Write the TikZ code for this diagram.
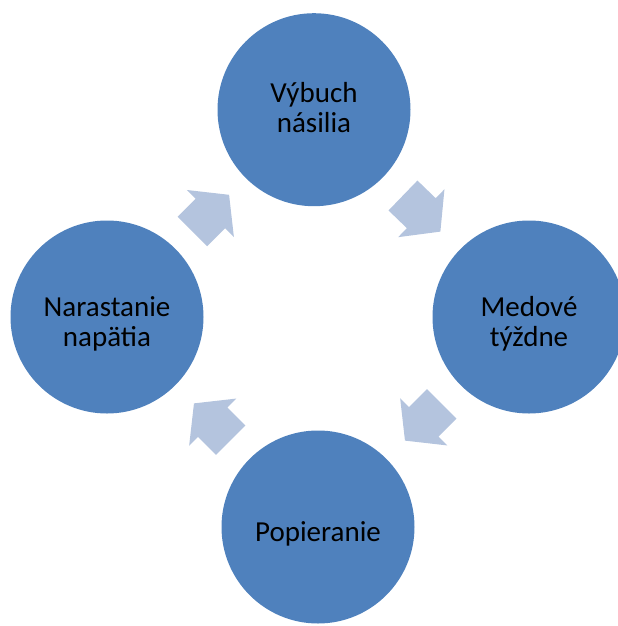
\documentclass[tikz,border=0pt]{standalone}
\usepackage{fontspec}
\setmainfont{Carlito}
\usepackage{tikz}
\usetikzlibrary{calc, shapes.arrows}
\definecolor{modrakruh}{RGB}{79,129,189}
\definecolor{modrasipka}{RGB}{180,196,222}
\newcommand{\vrch}[1][27pt]{\rule{0pt}{#1}}
\newcommand{\spodok}{\rule[-6pt]{0pt}{6pt}}

\begin{document}
\begin{tikzpicture}[x=0.75pt, y=-0.75pt,
      kruh/.style={circle, fill=modrakruh, minimum size=144.75pt, inner sep=0pt,
                   align=center, font=\fontsize{21.75}{22.5}\selectfont},
      sipka/.style={single arrow, fill=modrasipka, anchor=tail,
                    minimum height=39pt, minimum width=49.5pt,
                    single arrow head extend=9.4pt, single arrow tip angle=103,
                    inner xsep=0pt, inner ysep=15.4pt}]
    \useasboundingbox (0,0) rectangle (618,626);
    \clip (0,0) rectangle (618,626);
    \node[kruh] (V) at (314,109.7) {\vrch[18pt]Výbuch\\násilia\spodok};
    \node[kruh] (M) at (529,317) {\vrch Medové\\týždne\spodok};
    \node[kruh] (P) at (318,527) {\vrch Popieranie\spodok};
    \node[kruh] (N) at (107,317) {\vrch Narastanie\\napätia\spodok};
    % sipky medzi fazami
    \node[sipka, rotate=45] (NV) at ($(N)!0.5!(V)!19.5pt!(N)$) {};
    \node[sipka, rotate=-44] (VM) at ($(V)!0.5!(M)!19.5pt!(V)$) {};
    \node[sipka, rotate=-135] (MP) at ($(M)!0.5!(P)!19.5pt!(M)$) {};
    \node[sipka, rotate=135] (PN) at ($(P)!0.5!(N)!19.5pt!(P)$) {};
  \end{tikzpicture}
\end{document}
